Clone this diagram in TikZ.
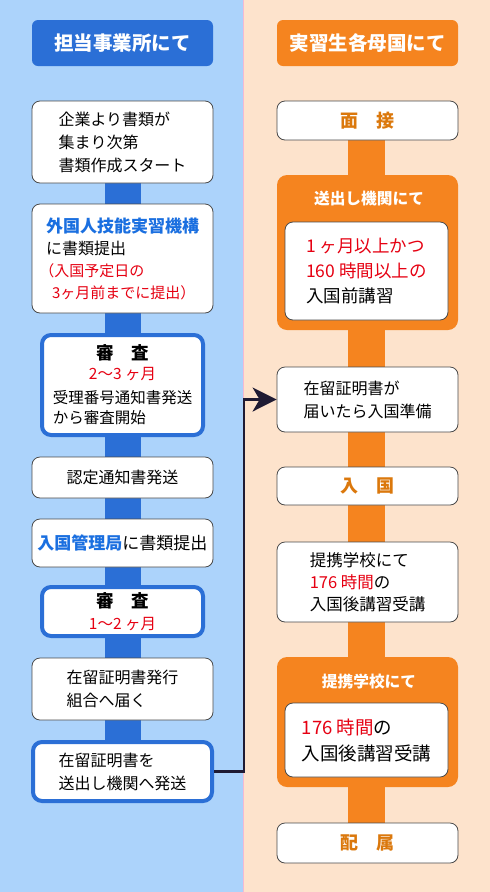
\documentclass[tikz,border=0pt]{standalone}
\usepackage{fontspec}
\setmainfont{Noto Sans CJK JP}
\usepackage{tikz}
\usetikzlibrary{arrows.meta,positioning}
\definecolor{leftbg}{HTML}{ACD3FB}
\definecolor{rightbg}{HTML}{FDE3CC}
\definecolor{flowblue}{HTML}{2B6FD6}
\definecolor{textblue}{HTML}{1A6FE0}
\definecolor{floworange}{HTML}{F5841F}
\definecolor{stagetext}{HTML}{DB780C}
\definecolor{flowred}{HTML}{E60012}
\definecolor{boxgray}{HTML}{4A4A4A}
\definecolor{linknavy}{HTML}{1F1B33}
\definecolor{seam}{HTML}{F4B9D2}

\begin{document}
\begin{tikzpicture}[x=1pt,y=-1pt,
    headbox/.style={rounded corners=6pt,minimum width=181pt,minimum height=46pt,text=white,font=\fontsize{19.5}{22}\selectfont\bfseries},
    flowbox/.style={draw=boxgray,line width=0.8pt,fill=white,rounded corners=8pt,minimum width=181pt,align=left,inner xsep=2pt,font=\fontsize{16}{23}\selectfont},
    checkbox/.style={flowbox,draw=flowblue,line width=4pt,minimum width=161pt,rounded corners=9pt,align=center,font=\fontsize{15.5}{20}\selectfont},
    groupbox/.style={fill=floworange,rounded corners=10pt,minimum width=181pt},
    grouptitle/.style={text=white,font=\fontsize{15.7}{18}\selectfont\bfseries},
    innerbox/.style={flowbox,minimum width=163pt},
    stagebox/.style={flowbox,align=center,text=stagetext,font=\fontsize{18}{20}\selectfont\bfseries},
    link/.style={draw=linknavy,line width=2.8pt,-{Stealth[length=24pt,width=24pt,inset=7pt]}}]
    \useasboundingbox (0,0) rectangle (490,892);
    % two panels
    \fill[leftbg] (0,0) rectangle (243,892);
    \fill[rightbg] (243,0) rectangle (490,892);
    \draw[seam,line width=0.8pt] (243.4,0) -- (243.4,892);
    % spines
    \fill[flowblue] (105,183) rectangle (141,740);
    \fill[floworange] (348,140) rectangle (385,823);

    % left column
    \node[headbox,fill=flowblue] (headL) at (122.5,43) {担当事業所にて};
    \node[flowbox,minimum height=82pt] (docs) at (122.5,142) {企業より書類が\\集まり次第\\書類作成スタート};
    \node[flowbox,minimum height=109pt,font=\fontsize{16}{22}\selectfont] (submitA) at (122.5,258.5)
        {{\color{textblue}\bfseries\fontsize{17}{22}\selectfont 外国人技能実習機構}\\に書類提出\\
         {\color{flowred}\fontsize{15}{22}\selectfont \hspace{-0.45em}（入国予定日の}\\
         {\color{flowred}\fontsize{15}{22}\selectfont \hspace{0.4em}3ヶ月前までに提出）}};
    \node[checkbox,minimum height=100pt] (checkA) at (122.5,385)
        {{\bfseries\fontsize{17.5}{20}\selectfont 審　査}\\{\color{flowred}2〜3 ヶ月}\\[4pt]受理番号通知書発送\\\makebox[9em][l]{から審査開始}};
    \node[flowbox,minimum height=41pt] (notice) at (122.5,477.5) {認定通知書発送};
    \node[flowbox,minimum height=48pt,font=\fontsize{17}{22}\selectfont] (submitB) at (122.5,543)
        {{\color{textblue}\bfseries 入国管理局}に書類提出};
    \node[checkbox,minimum height=49pt,font=\fontsize{15.5}{22}\selectfont] (checkB) at (122.5,611.5)
        {{\bfseries\fontsize{17.5}{20}\selectfont 審　査}\\{\color{flowred}1〜2 ヶ月}};
    \node[flowbox,minimum height=62pt] (issue) at (122.5,689) {在留証明書発行\\組合へ届く};
    \node[flowbox,draw=flowblue,line width=4pt,minimum width=179pt,minimum height=59pt,rounded corners=9pt] (send) at (122.5,771.5)
        {在留証明書を\\送出し機関へ発送};

    % right column
    \node[headbox,fill=floworange] (headR) at (367.5,43) {実習生各母国にて};
    \node[stagebox,minimum height=39pt] (interview) at (367.5,120.5) {面　接};
    \node[groupbox,minimum height=155pt] (agency) at (367.5,252.5) {};
    \node[grouptitle] (agencyT) at (369,199) {送出し機関にて};
    \node[innerbox,minimum height=98pt,font=\fontsize{17.5}{25}\selectfont] (pretrain) at (366.5,271)
        {{\color{flowred}1 ヶ月以上かつ}\hspace{8pt}\\{\color{flowred}160 時間以上の}\hspace{8pt}\\入国前講習};
    \node[flowbox,minimum height=65pt] (prep) at (367.5,399.5) {在留証明書が\\届いたら入国準備};
    \node[stagebox,minimum height=38pt] (entry) at (367.5,486) {入　国};
    \node[flowbox,minimum height=80pt,font=\fontsize{16.5}{22}\selectfont] (school) at (367.5,582)
        {提携学校にて\\{\color{flowred}176 時間}の\\入国後講習受講};
    \node[groupbox,minimum height=130pt] (partner) at (367.5,722) {};
    \node[grouptitle] (partnerT) at (369,682) {提携学校にて};
    \node[innerbox,minimum height=74pt,font=\fontsize{18.5}{26}\selectfont] (posttrain) at (366.5,740)
        {{\color{flowred}176 時間}の\\入国後講習受講};
    \node[stagebox,minimum height=40pt] (assign) at (367.5,843) {配　属};

    % hand-over
    \coordinate (bend) at (244,771.5);
    \draw[link] (send.east) -- (bend) |- (prep.west);
\end{tikzpicture}
\end{document}
